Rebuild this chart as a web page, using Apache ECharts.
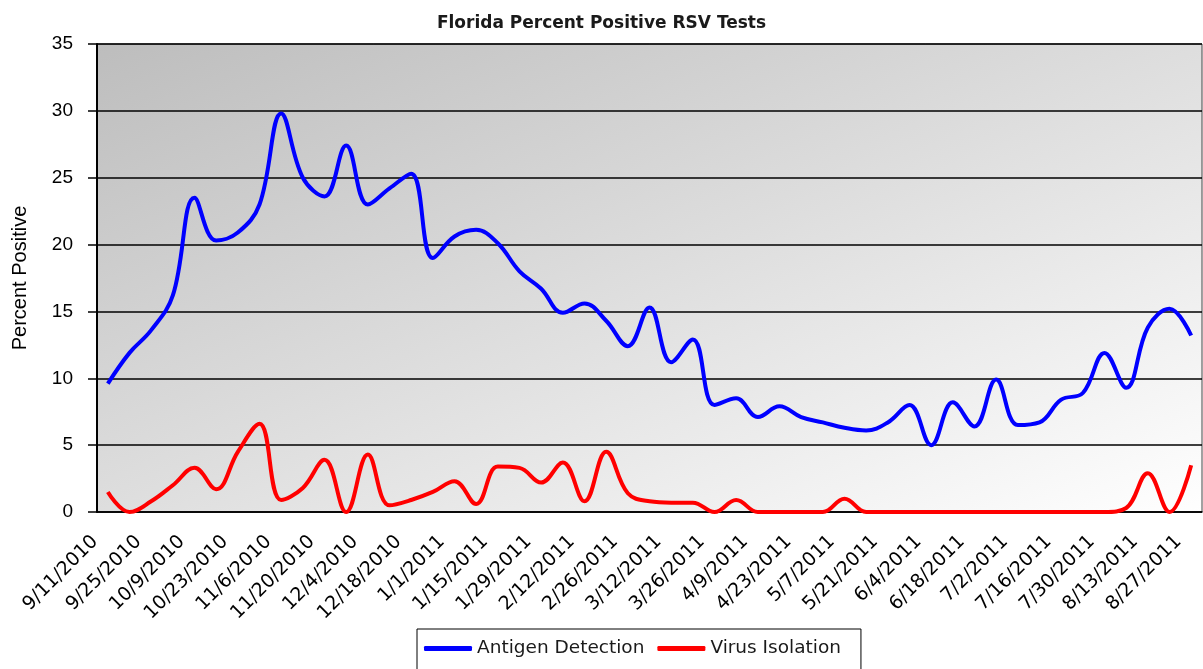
<!DOCTYPE html>
<html>
<head>
<meta charset="utf-8">
<script src="https://cdn.jsdelivr.net/npm/echarts@6/dist/echarts.min.js"></script>
<style>
  html, body { margin: 0; padding: 0; background: #ffffff; }
  #chart { width: 1203px; height: 669px; }
</style>
</head>
<body>
<div id="chart"></div>
<script>
const weeks = [
  '9/11/2010','9/18/2010','9/25/2010','10/2/2010','10/9/2010','10/16/2010','10/23/2010','10/30/2010',
  '11/6/2010','11/13/2010','11/20/2010','11/27/2010','12/4/2010','12/11/2010','12/18/2010','12/25/2010',
  '1/1/2011','1/8/2011','1/15/2011','1/22/2011','1/29/2011','2/5/2011','2/12/2011','2/19/2011',
  '2/26/2011','3/5/2011','3/12/2011','3/19/2011','3/26/2011','4/2/2011','4/9/2011','4/16/2011',
  '4/23/2011','4/30/2011','5/7/2011','5/14/2011','5/21/2011','5/28/2011','6/4/2011','6/11/2011',
  '6/18/2011','6/25/2011','7/2/2011','7/9/2011','7/16/2011','7/23/2011','7/30/2011','8/6/2011',
  '8/13/2011','8/20/2011','8/27/2011'
];

const antigenDetection = [
  9.6, 11.9, 13.6, 16.2, 23.5, 20.3, 20.9, 23.0,
  29.8, 25.0, 23.6, 27.4, 23.0, 24.2, 25.3, 19.0,
  20.6, 21.1, 20.1, 18.0, 16.7, 14.9, 15.6, 14.3,
  12.4, 15.3, 11.2, 12.9, 8.0, 8.5, 7.1, 7.9,
  7.1, 6.7, 6.3, 6.1, 6.7, 8.0, 5.0, 8.2,
  6.4, 9.9, 6.5, 6.7, 8.4, 8.9, 11.9, 9.3,
  13.8, 15.2, 13.2
];

const virusIsolation = [
  1.5, 0.0, 0.8, 2.0, 3.3, 1.7, 4.5, 6.6,
  0.9, 1.8, 3.9, 0.0, 4.3, 0.5, 0.9, 1.5,
  2.3, 0.6, 3.4, 3.3, 2.2, 3.7, 0.8, 4.5,
  1.4, 0.8, 0.7, 0.7, 0.0, 0.9, 0.0, 0.0,
  0.0, 0.0, 1.0, 0.0, 0.0, 0.0, 0.0, 0.0,
  0.0, 0.0, 0.0, 0.0, 0.0, 0.0, 0.0, 0.3,
  2.9, 0.0, 3.5
];

const yTicks = [0, 5, 10, 15, 20, 25, 30, 35];

const chart = echarts.init(document.getElementById('chart'), null, { renderer: 'canvas' });

chart.setOption({
  animation: false,
  title: {
    text: 'Florida Percent Positive RSV Tests',
    left: 'center',
    top: 10,
    textStyle: { fontFamily: 'DejaVu Sans', fontWeight: 'bold', fontSize: 17, color: '#1a1a1a' }
  },
  legend: {
    left: 417,
    top: 629,
    padding: [10, 20, 24, 7],
    borderColor: '#000',
    borderWidth: 1,
    backgroundColor: '#fff',
    itemWidth: 48,
    itemHeight: 5,
    itemGap: 13,
    icon: 'roundRect',
    textStyle: { fontFamily: 'DejaVu Sans', fontSize: 18.5, color: '#1a1a1a' },
    data: ['Antigen Detection', 'Virus Isolation']
  },
  grid: {
    left: 97,
    top: 44,
    right: 1,
    bottom: 157,
    show: true,
    borderColor: '#444',
    borderWidth: 1,
    backgroundColor: {
      type: 'linear', x: 0, y: 0, x2: 0.304, y2: 1.7,
      colorStops: [
        { offset: 0, color: '#bdbdbd' },
        { offset: 1, color: '#ffffff' }
      ]
    }
  },
  xAxis: {
    type: 'category',
    data: weeks,
    boundaryGap: true,
    axisLine: { lineStyle: { color: '#000', width: 1.5 } },
    axisTick: { interval: 0, length: 6, lineStyle: { color: '#000', width: 1.5 } },
    axisLabel: {
      interval: 1,
      rotate: 45,
      margin: 14,
      padding: [0, 18, 0, 0],
      fontFamily: 'DejaVu Sans',
      fontSize: 19,
      color: '#000'
    }
  },
  yAxis: {
    type: 'value',
    min: yTicks[0],
    max: yTicks[yTicks.length - 1],
    interval: 5,
    name: 'Percent Positive',
    nameLocation: 'middle',
    nameGap: 67,
    nameTextStyle: { fontFamily: 'Liberation Sans', fontSize: 20, color: '#000' },
    axisLine: { show: true, lineStyle: { color: '#000', width: 2 } },
    axisTick: { show: true, inside: false, length: 9, lineStyle: { color: '#000', width: 1.5 } },
    axisLabel: {
      margin: 24,
      fontFamily: "'Liberation Sans Narrow', 'Liberation Sans', Arial",
      fontSize: 19,
      color: '#000'
    },
    splitLine: { show: true, lineStyle: { color: '#000', width: 1.5 } }
  },
  series: [
    {
      name: 'Antigen Detection',
      type: 'line',
      data: antigenDetection,
      smooth: 0.4,
      showSymbol: false,
      symbol: 'none',
      color: '#0000ff',
      lineStyle: { color: '#0000ff', width: 4 },
      z: 3
    },
    {
      name: 'Virus Isolation',
      type: 'line',
      data: virusIsolation,
      smooth: 0.4,
      showSymbol: false,
      symbol: 'none',
      color: '#ff0000',
      lineStyle: { color: '#ff0000', width: 4 },
      z: 3
    }
  ]
});
</script>
</body>
</html>
